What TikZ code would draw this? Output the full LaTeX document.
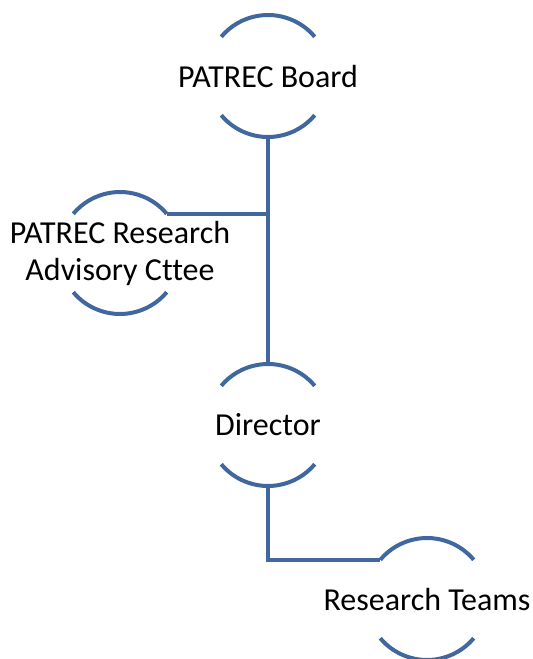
\documentclass[tikz,border=0pt]{standalone}
\usepackage{fontspec}
\setmainfont{Carlito}[Ligatures={NoCommon}]
\definecolor{lineblue}{RGB}{64,104,158}
\begin{document}
\begin{tikzpicture}[x=1pt,y=-1pt,
  ring/.style={circle,minimum size=122pt,inner sep=0pt,outer sep=0pt,draw=none},
  lbl/.style={anchor=base,font=\fontsize{32}{37}\selectfont,text=black,inner sep=0pt,align=center},
  arcline/.style={draw=lineblue,line width=4pt},
  conn/.style={draw=lineblue,line width=4pt}]
\useasboundingbox (0,0) rectangle (533,659);
% rings
\node[ring] (board) at (268,76) {};
\node[ring] (adv) at (120,253) {};
\node[ring] (dir) at (268,425) {};
\node[ring] (teams) at (427,599) {};
% labels
\node[lbl] (tboard) at (268,87) {PATREC Board};
\node[lbl] (tadv) at (120,280) {PATREC Research\\Advisory Cttee};
\node[lbl] (tdir) at (268,435) {Director};
\node[lbl] (tteams) at (427,610) {Research Teams};
% arcs
\foreach \n in {board,adv,dir,teams}{
  \draw[arcline] (\n.40) arc[start angle=40,end angle=140,radius=61pt];
  \draw[arcline] (\n.220) arc[start angle=220,end angle=320,radius=61pt];
}
% connectors
\draw[conn] (board.south) -- (dir.north);
\coordinate (jn) at (adv.40 -| board.south);
\draw[conn] (adv.40) -- (jn);
\draw[conn] (dir.south) |- (teams.140);
\end{tikzpicture}
\end{document}
